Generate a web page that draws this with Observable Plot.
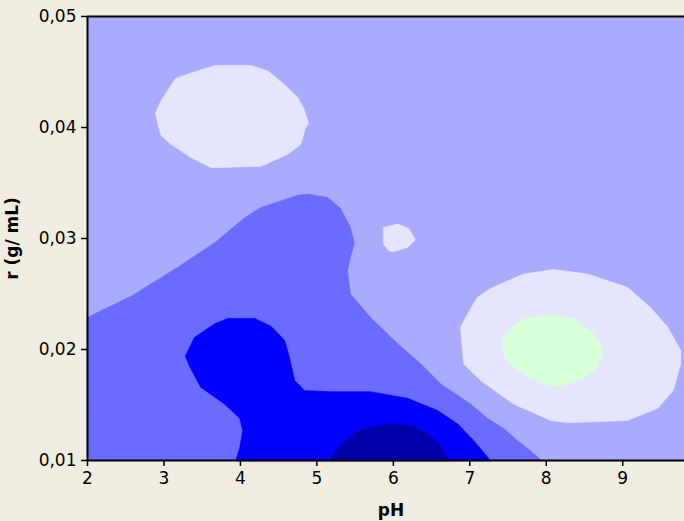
<!DOCTYPE html>
<html><head><meta charset="utf-8">
<script src="https://cdn.jsdelivr.net/npm/d3@7"></script>
<script src="https://cdn.jsdelivr.net/npm/@observablehq/plot@0.6"></script>
<style>html,body{margin:0;padding:0;background:#f0ece2;overflow:hidden}</style>
</head><body><div id="chart"></div>
<script>
// Axis ticks
const xTicks = [2, 3, 4, 5, 6, 7, 8, 9];
const yTicks = [0.01, 0.02, 0.03, 0.04, 0.05];
const yTickLabels = ["0,01", "0,02", "0,03", "0,04", "0,05"];

// Contour regions (pH, r)
const mediumPH = [2.0, 2.27, 2.57, 3.18, 3.44, 3.66, 4.06, 4.27, 4.75, 4.88, 5.14, 5.31, 5.44, 5.49, 5.44, 5.40, 5.44, 5.70, 6.06, 6.36, 6.62, 7.01, 7.23, 7.44, 7.62, 7.79, 7.94, 2.0];
const mediumR  = [0.0229, 0.0238, 0.0248, 0.0274, 0.0286, 0.0296, 0.0319, 0.0328, 0.0339, 0.0340, 0.0337, 0.0327, 0.0310, 0.0296, 0.0283, 0.0271, 0.0250, 0.0229, 0.0205, 0.0187, 0.0169, 0.0151, 0.0138, 0.0129, 0.0118, 0.0109, 0.0100, 0.0100];

const bluePH = [3.94, 3.99, 4.03, 3.99, 3.79, 3.48, 3.34, 3.28, 3.40, 3.66, 3.83, 4.19, 4.40, 4.58, 4.64, 4.71, 4.84, 5.18, 5.70, 6.19, 6.58, 6.84, 7.05, 7.27];
const blueR  = [0.0100, 0.0111, 0.0127, 0.0138, 0.0151, 0.0166, 0.0184, 0.0194, 0.0211, 0.0223, 0.0228, 0.0228, 0.0221, 0.0208, 0.0193, 0.0172, 0.0163, 0.0162, 0.0162, 0.0156, 0.0145, 0.0133, 0.0118, 0.0100];

const darkPH = [5.17, 5.22, 5.35, 5.52, 5.74, 6.00, 6.25, 6.46, 6.62, 6.72];
const darkR  = [0.0100, 0.0107, 0.0117, 0.0126, 0.0131, 0.0133, 0.0131, 0.0124, 0.0113, 0.0100];

const islandAPH = [2.89, 2.96, 3.15, 3.35, 3.68, 4.13, 4.36, 4.57, 4.75, 4.83, 4.89, 4.85, 4.79, 4.62, 4.27, 3.74, 3.61, 3.35, 3.09, 2.96, 2.92];
const islandAR  = [0.0413, 0.0424, 0.0444, 0.0449, 0.0456, 0.0456, 0.0451, 0.0439, 0.0427, 0.0417, 0.0404, 0.0399, 0.0385, 0.0376, 0.0365, 0.0364, 0.0364, 0.0373, 0.0385, 0.0393, 0.0403];

const islandBPH = [5.87, 6.06, 6.20, 6.29, 6.19, 6.00, 5.94, 5.87];
const islandBR  = [0.0310, 0.0313, 0.0309, 0.0299, 0.0292, 0.0288, 0.0289, 0.0295];

const islandCPH = [6.88, 6.97, 7.10, 7.27, 7.70, 8.10, 8.54, 9.06, 9.36, 9.59, 9.76, 9.76, 9.66, 9.46, 9.06, 8.28, 8.06, 7.57, 7.14, 6.92];
const islandCR  = [0.0220, 0.0232, 0.0247, 0.0255, 0.0268, 0.0272, 0.0268, 0.0256, 0.0238, 0.0220, 0.0199, 0.0187, 0.0163, 0.0147, 0.0136, 0.0134, 0.0136, 0.0151, 0.0172, 0.0187];

const greenPH = [7.43, 7.44, 7.56, 7.70, 8.06, 8.36, 8.58, 8.71, 8.74, 8.67, 8.49, 8.19, 8.06, 7.79, 7.57, 7.47];
const greenR  = [0.0199, 0.0211, 0.0220, 0.0228, 0.0231, 0.0228, 0.0217, 0.0205, 0.0196, 0.0184, 0.0174, 0.0167, 0.0167, 0.0174, 0.0184, 0.0192];

const regionNames = ["medium", "blue", "dark", "islandA", "islandB", "islandC", "green"];
const regionPH = [mediumPH, bluePH, darkPH, islandAPH, islandBPH, islandCPH, greenPH];
const regionR  = [mediumR, blueR, darkR, islandAR, islandBR, islandCR, greenR];

// Styles
const baseColor = "#aaaaff";
const regionColors = ["#6b6bff", "#0000ff", "#0000aa", "#e5e5ff", "#e5e5ff", "#e5e5ff", "#d8ffd8"];

const regions = regionNames.map((name, i) => ({
  name, color: regionColors[i],
  rows: regionPH[i].map((ph, j) => ({ph, r: regionR[i][j]}))
}));

const chart = Plot.plot({
  width: 684, height: 521,
  marginTop: 16, marginBottom: 61, marginLeft: 87, marginRight: 0,
  style: {fontFamily: "DejaVu Sans", fontSize: "17px", background: "#f0ece2", color: "black"},
  x: {domain: [2, 9.808]},
  y: {domain: [0.01, 0.05]},
  marks: [
    Plot.frame({fill: baseColor, stroke: "none"}),
    ...regions.map(reg => Plot.line(reg.rows, {x: "ph", y: "r", fill: reg.color, stroke: reg.color, strokeWidth: 0.6, curve: "linear-closed"})),
    Plot.ruleY([0.05, 0.01], {stroke: "black", strokeWidth: 2}),
    Plot.ruleX([2], {stroke: "black", strokeWidth: 2}),
    Plot.axisX(xTicks, {tickSize: 6, tickPadding: 5, fontSize: 17, label: null, strokeWidth: 1.5}),
    Plot.axisY(yTicks, {tickSize: 6, tickPadding: 5, fontSize: 17, label: null, strokeWidth: 1.5,
      tickFormat: d => yTickLabels[yTicks.indexOf(d)]}),
    Plot.text(["pH"], {text: d => d, frameAnchor: "bottom", textAnchor: "middle", lineAnchor: "bottom", dx: 5, dy: 55, fontWeight: "bold", fontSize: 17}),
    Plot.text(["r (g/ mL)"], {text: d => d, frameAnchor: "left", textAnchor: "middle", lineAnchor: "bottom", rotate: -90, dx: -70, fontWeight: "bold", fontSize: 17})
  ]
});
document.getElementById("chart").appendChild(chart);
</script>
</body></html>
